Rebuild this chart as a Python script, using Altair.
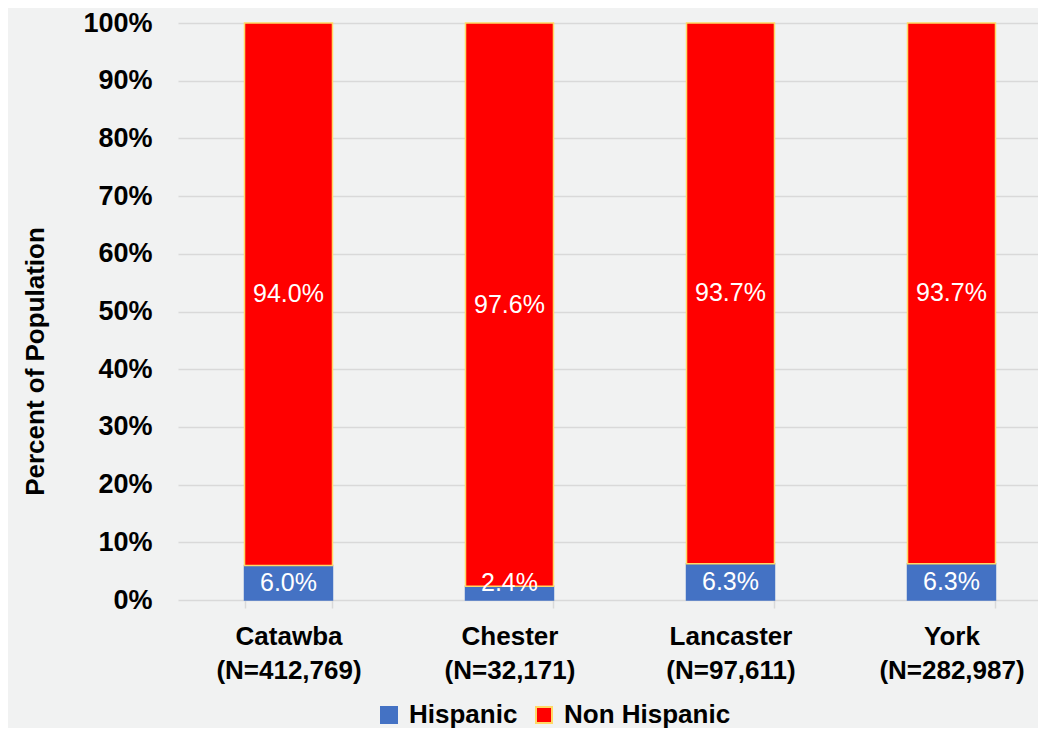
import altair as alt
import pandas as pd

counties = ["Catawba", "Chester", "Lancaster", "York"]
n_labels = ["(N=412,769)", "(N=32,171)", "(N=97,611)", "(N=282,987)"]
groups = ["Hispanic", "Non Hispanic"]
hispanic = [6.0, 2.4, 6.3, 6.3]
non_hispanic = [94.0, 97.6, 93.7, 93.7]

fill_colors = ["#4472C4", "#FF0000"]
stroke_colors = ["#4472C4", "#FFD966"]

rows = []
for c, n, h, nh in zip(counties, n_labels, hispanic, non_hispanic):
    cat = c + "\n" + n
    rows.append({"county": cat, "group": groups[0], "value": h,
                 "label_pos": max(h / 2, 3.0), "label": f"{h:.1f}%"})
    rows.append({"county": cat, "group": groups[1], "value": nh,
                 "label_pos": h + nh / 2, "label": f"{nh:.1f}%"})
df = pd.DataFrame(rows)
cat_order = [c + "\n" + n for c, n in zip(counties, n_labels)]

FONT = "Liberation Sans"

legend_cfg = dict(
    title=None, orient="none", direction="horizontal",
    legendX=198, legendY=679, symbolType="square", symbolSize=256,
    symbolStrokeWidth=2, labelFont=FONT, labelFontSize=26,
    labelFontWeight="bold", labelColor="black", labelOffset=7,
    columnPadding=13, labelLimit=400,
)

x_enc = alt.X(
    "county:N", sort=cat_order, title=None,
    scale=alt.Scale(range=[0, 884], paddingInner=0.602, paddingOuter=0.301),
    axis=alt.Axis(
        labelExpr="split(datum.label, '\\n')",
        labelAngle=0, labelFont=FONT, labelFontSize=26, labelFontWeight="bold",
        labelColor="black", labelLineHeight=34, labelBaseline="top",
        labelPadding=15, tickSize=8, tickBand="extent", tickColor="#D9D9D9",
        tickWidth=1.5, domain=False, grid=False,
    ),
)

bars = alt.Chart(df).mark_bar(strokeWidth=1.5).encode(
    x=x_enc,
    y=alt.Y(
        "value:Q", stack="zero",
        scale=alt.Scale(domain=[0, 100]),
        axis=alt.Axis(
            title="Percent of Population",
            values=list(range(0, 101, 10)),
            labelExpr="datum.value + '%'",
            labelFont=FONT, labelFontSize=27, labelFontWeight="bold",
            labelColor="black", labelPadding=26, ticks=False, domain=False,
            grid=True, gridColor="#D9D9D9", gridWidth=1.5,
            titleFont=FONT, titleFontSize=26, titleFontWeight="bold",
            titleColor="black", titleX=-135, titleY=338,
            titleBaseline="alphabetic", titleAngle=-90,
        ),
    ),
    color=alt.Color(
        "group:N", sort=groups,
        scale=alt.Scale(domain=groups, range=fill_colors),
        legend=alt.Legend(**legend_cfg),
    ),
    stroke=alt.Stroke(
        "group:N", sort=groups,
        scale=alt.Scale(domain=groups, range=stroke_colors),
        legend=alt.Legend(**legend_cfg),
    ),
    order=alt.Order("group:N", sort="ascending"),
)

labels = alt.Chart(df).mark_text(
    color="white", font=FONT, fontSize=25, baseline="middle", align="center"
).encode(
    x=alt.X("county:N", sort=cat_order),
    y=alt.Y("label_pos:Q", stack=None),
    text="label:N",
)

chart = alt.layer(bars, labels).properties(
    width=860, height=577,
    autosize=alt.AutoSizeParams(type="none"),
    padding={"left": 170, "top": 15, "right": 0, "bottom": 128},
    background="#F1F2F2",
).configure_view(stroke=None)

chart.save("out.html", embed_options={"renderer": "svg", "actions": False})
